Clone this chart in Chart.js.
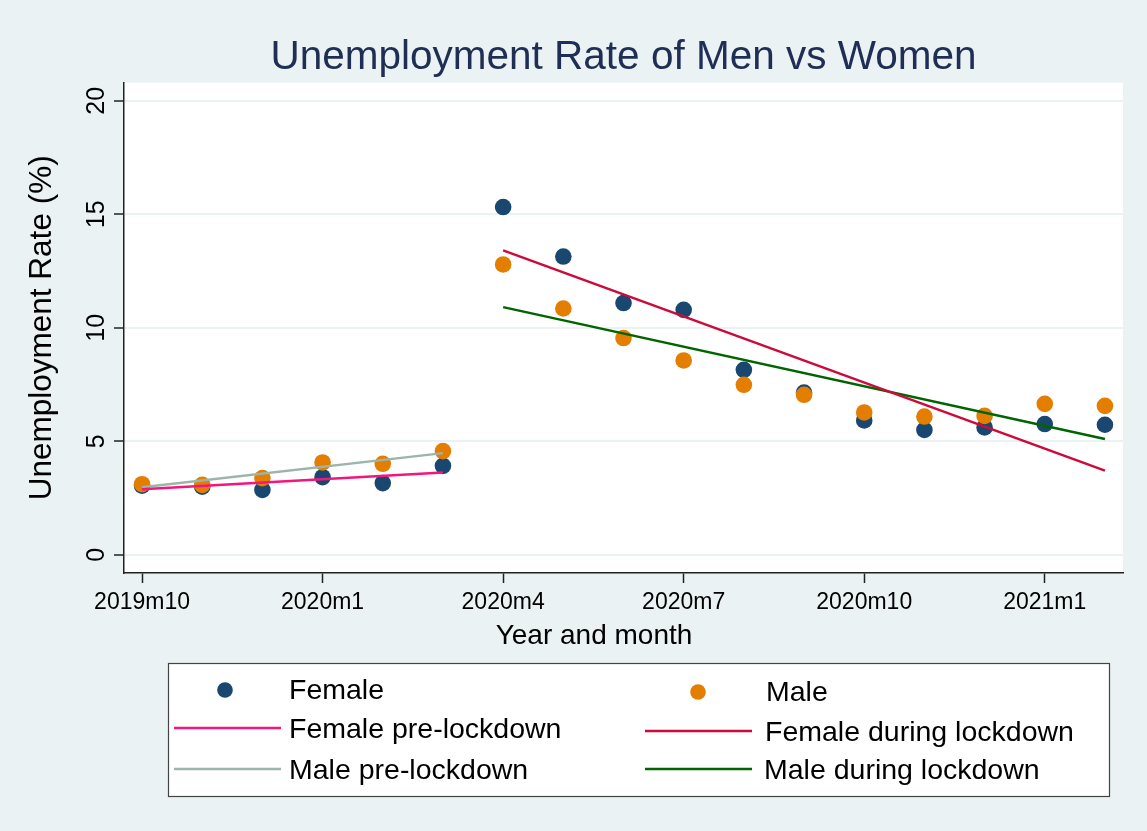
<!DOCTYPE html>
<html>
<head>
<meta charset="utf-8">
<script src="https://cdn.jsdelivr.net/npm/chart.js@4"></script>
<style>
  html, body { margin: 0; padding: 0; background: #eaf2f3; }
  #wrap { position: relative; width: 1147px; height: 831px; }
</style>
</head>
<body>
<div id="wrap"><canvas id="chart" width="1147" height="831"></canvas></div>
<script>
// Datos

let monthLabels = ["2019m10", "2019m11", "2019m12", "2020m1", "2020m2", "2020m3", "2020m4", "2020m5", "2020m6",
  "2020m7", "2020m8", "2020m9", "2020m10", "2020m11", "2020m12", "2021m1", "2021m2"];
let femaleRate = [3.05, 3.0, 2.86, 3.42, 3.16, 3.92, 15.32, 13.14, 11.09, 10.79, 8.15, 7.15, 5.92, 5.5, 5.61, 5.76, 5.73];
let maleRate = [3.11, 3.08, 3.38, 4.07, 4.01, 4.57, 12.79, 10.85, 9.55, 8.56, 7.49, 7.05, 6.27, 6.09, 6.12, 6.65, 6.56];

// Rectas ajustadas (inicio y fin)
let preMonths = ["2019m10", "2020m3"];
let duringMonths = ["2020m4", "2021m2"];
let femalePreFit = [2.89, 3.63];
let malePreFit = [2.98, 4.48];
let femaleDuringFit = [13.41, 3.71];
let maleDuringFit = [10.91, 5.10];

let tickMonths = ["2019m10", "2020m1", "2020m4", "2020m7", "2020m10", "2021m1"];
let yTicks = [0, 5, 10, 15, 20];

const FONT = "'Liberation Sans', Arial, sans-serif";

function points(months, values) {
  return months.map((m, i) => ({ x: monthLabels.indexOf(m), y: values[i] }));
}

function fitLine(label, months, values, color) {
  return {
    label: label,
    data: points(months, values),
    showLine: true,
    borderColor: color,
    backgroundColor: color,
    borderWidth: 2.5,
    pointRadius: 0,
    order: 0,
    kind: "line",
  };
}

let datasets = [
  {
    label: "Female",
    data: points(monthLabels, femaleRate),
    backgroundColor: "#1a476f",
    borderWidth: 0,
    pointRadius: 8.3,
    order: 2,
    kind: "dot",
  },
  {
    label: "Male",
    data: points(monthLabels, maleRate),
    backgroundColor: "#e37e00",
    borderWidth: 0,
    pointRadius: 8.3,
    order: 1,
    kind: "dot",
  },
  fitLine("Female pre-lockdown", preMonths, femalePreFit, "#f5157e"),
  fitLine("Female during lockdown", duringMonths, femaleDuringFit, "#cd0a3c"),
  fitLine("Male pre-lockdown", preMonths, malePreFit, "#9bb5ab"),
  fitLine("Male during lockdown", duringMonths, maleDuringFit, "#006400"),
];

// Leyenda estilo Stata y titulo del eje x

const stataLegend = {
  id: "stataLegend",
  afterDraw(chart) {
    let ctx = chart.ctx;
    let ds = chart.data.datasets;
    ctx.save();

    ctx.font = "28px " + FONT;
    ctx.fillStyle = "#000000";
    ctx.textAlign = "center";
    ctx.textBaseline = "middle";
    ctx.fillText("Year and month", 594, 636);

    ctx.fillStyle = "#ffffff";
    ctx.fillRect(168, 663, 942, 134);
    ctx.strokeStyle = "#444444";
    ctx.lineWidth = 1.2;
    ctx.strokeRect(168.5, 663.5, 941, 133);

    let slots = [
      { i: 0, sx: 225, tx: 289, y: 691 },
      { i: 1, sx: 698, tx: 766, y: 693 },
      { i: 2, sx: 174, tx: 289, y: 730 },
      { i: 3, sx: 645, tx: 765, y: 733 },
      { i: 4, sx: 174, tx: 289, y: 771 },
      { i: 5, sx: 645, tx: 764, y: 771 },
    ];
    ctx.font = "28.5px " + FONT;
    ctx.textAlign = "left";
    slots.forEach((s) => {
      let d = ds[s.i];
      if (d.kind === "dot") {
        ctx.fillStyle = d.backgroundColor;
        ctx.beginPath();
        ctx.arc(s.sx, s.y - 1, 7.8, 0, Math.PI * 2);
        ctx.fill();
      } else {
        ctx.strokeStyle = d.borderColor;
        ctx.lineWidth = 2.5;
        ctx.beginPath();
        ctx.moveTo(s.sx, s.y - 2);
        ctx.lineTo(s.sx + 107, s.y - 2);
        ctx.stroke();
      }
      ctx.fillStyle = "#000000";
      ctx.fillText(d.label, s.tx, s.y);
    });
    ctx.restore();
  },
};

// Fondo blanco del area de graficos
const plotBackground = {
  id: "plotBackground",
  beforeDraw(chart) {
    let a = chart.chartArea;
    chart.ctx.save();
    chart.ctx.fillStyle = "#ffffff";
    chart.ctx.fillRect(a.left, a.top, a.right - a.left, a.bottom - a.top);
    chart.ctx.restore();
  },
};

new Chart(document.getElementById("chart"), {
  type: "scatter",
  data: { datasets: datasets },
  plugins: [plotBackground, stataLegend],
  options: {
    responsive: false,
    animation: false,
    layout: { padding: { left: 0, right: 24, top: 0, bottom: 0 } },
    plugins: {
      legend: { display: false },
      tooltip: { enabled: false },
      title: {
        display: true,
        fullSize: false,
        text: "Unemployment Rate of Men vs Women",
        color: "#1f2e55",
        font: { family: FONT, size: 40.5, weight: "normal" },
        padding: { top: 34, bottom: 0 },
      },
    },
    scales: {
      x: {
        type: "linear",
        min: -0.3,
        max: 16.3,
        afterBuildTicks: (scale) => {
          scale.ticks = tickMonths.map((m) => ({ value: monthLabels.indexOf(m) }));
        },
        afterFit: (scale) => {
          scale.height = 258;
        },
        ticks: {
          callback: (v) => monthLabels[v],
          color: "#000000",
          font: { family: FONT, size: 23 },
          padding: 6,
          maxRotation: 0,
          autoSkip: false,
        },
        grid: {
          drawOnChartArea: false,
          drawTicks: true,
          tickLength: 10,
          tickColor: "#222222",
          tickWidth: 1.5,
        },
        border: { display: true, color: "#222222", width: 1.5 },
      },
      y: {
        min: -0.8,
        max: 20.8,
        afterBuildTicks: (scale) => {
          scale.ticks = yTicks.map((v) => ({ value: v }));
        },
        afterFit: (scale) => {
          scale.width = 124;
        },
        ticks: {
          color: "#000000",
          font: { family: FONT, size: 25 },
          minRotation: 90,
          maxRotation: 90,
          crossAlign: "center",
          padding: 3,
        },
        grid: {
          color: "#eaf2f3",
          lineWidth: 2,
          drawTicks: true,
          tickLength: 10,
          tickColor: "#222222",
          tickWidth: 1.5,
        },
        border: { display: true, color: "#222222", width: 1.5 },
        title: {
          display: true,
          text: "Unemployment Rate (%)",
          color: "#000000",
          font: { family: FONT, size: 31.5 },
          padding: { top: 23, bottom: 0 },
        },
      },
    },
  },
});
</script>
</body>
</html>
